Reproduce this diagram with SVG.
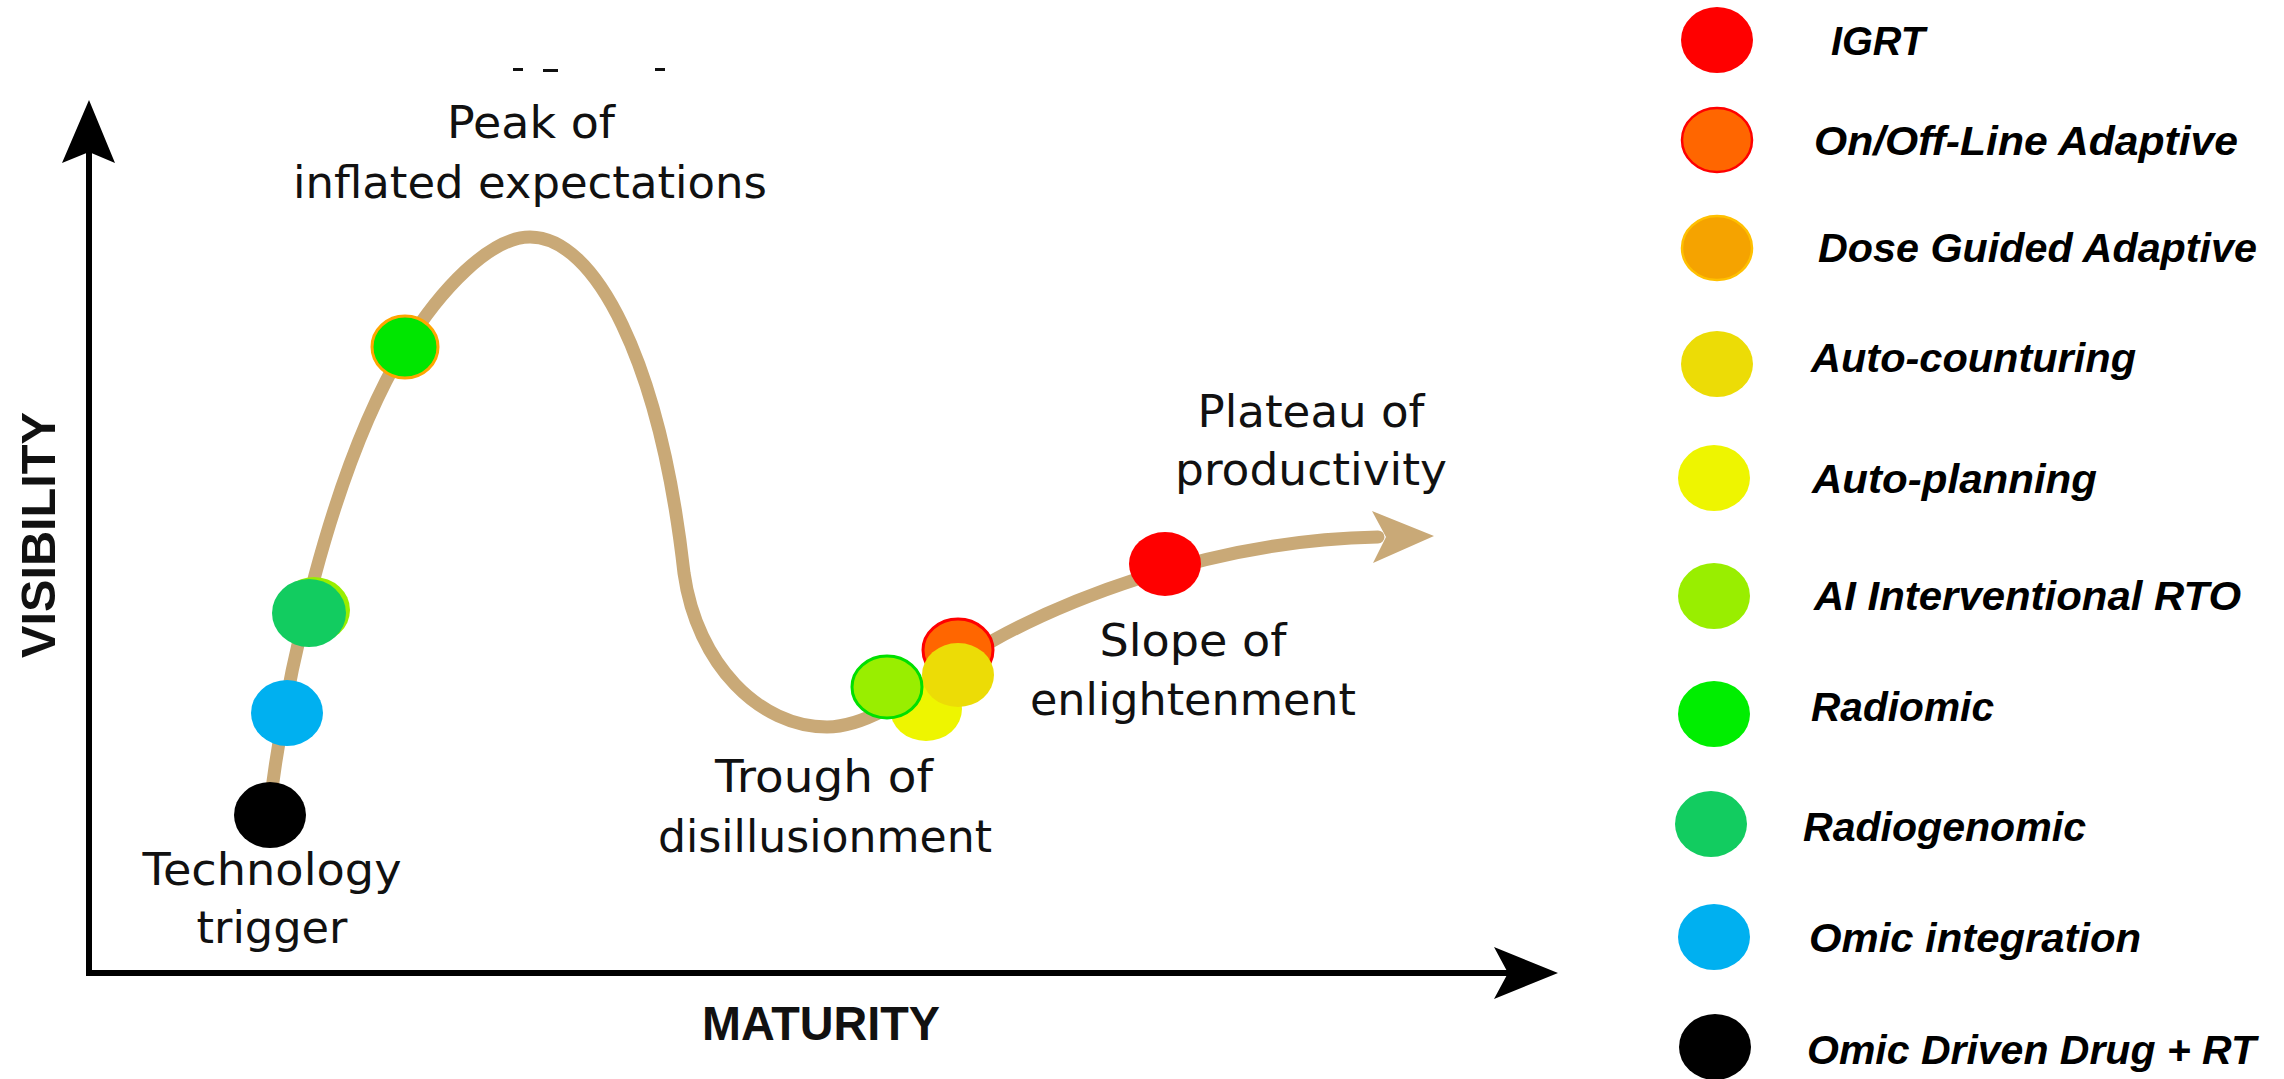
<svg xmlns="http://www.w3.org/2000/svg" width="2284" height="1079" viewBox="0 0 2284 1079">
  <style>
    .phase { font-family: "DejaVu Sans", "Liberation Sans", sans-serif; font-size: 44px; fill: #111; text-anchor: middle; }
    .axislbl { font-family: "Liberation Sans", Arial, sans-serif; font-weight: bold; font-size: 48px; fill: #111; text-anchor: middle; }
    .leg { font-family: "Liberation Sans", Arial, sans-serif; font-weight: bold; font-style: italic; font-size: 41px; fill: #000; }
    .axis { stroke: #000; stroke-width: 6; fill: none; }
    .hype { stroke: #c9a977; stroke-width: 13; fill: none; stroke-linecap: round; }
  </style>
  <rect width="2284" height="1079" fill="#ffffff"/>

  <!-- cut-off remnants at top -->
  <g id="top-remnants" fill="#111">
    <rect x="513" y="68" width="10" height="3"/>
    <rect x="543" y="69" width="15" height="3"/>
    <rect x="655" y="68" width="10" height="3"/>
  </g>

  <!-- axes -->
  <g id="axes">
    <line class="axis" x1="89" y1="975" x2="89" y2="150"/>
    <polygon points="89,100 115,163 89,152 62,163" fill="#000"/>
    <line class="axis" x1="86" y1="973" x2="1512" y2="973"/>
    <polygon points="1558,973 1494,947 1508,973 1494,999" fill="#000"/>
    <text class="axislbl" transform="translate(55,535) rotate(-90)" textLength="246" lengthAdjust="spacingAndGlyphs">VISIBILITY</text>
    <text class="axislbl" x="821" y="1040" textLength="238" lengthAdjust="spacingAndGlyphs">MATURITY</text>
  </g>

  <!-- connectors: hype cycle curve -->
  <g id="connectors">
    <path class="hype" d="M 270 805 C 285 680, 330 470, 405 347 C 440 290, 490 237, 530 237 C 595 237, 660 360, 684 573 C 697 665, 760 727, 827 727 C 880 727, 940 670, 994 640 C 1050 609, 1200 540, 1378 537"/>
    <polygon points="1434,536 1372,511 1386,537 1373,563" fill="#c9a977"/>
  </g>

  <!-- phase labels -->
  <g id="phase-labels">
    <text class="phase" x="531" y="138" textLength="168" lengthAdjust="spacingAndGlyphs">Peak of</text>
    <text class="phase" x="530" y="198" textLength="474" lengthAdjust="spacingAndGlyphs">inflated expectations</text>
    <text class="phase" x="272" y="885" textLength="259" lengthAdjust="spacingAndGlyphs">Technology</text>
    <text class="phase" x="272" y="943" textLength="151" lengthAdjust="spacingAndGlyphs">trigger</text>
    <text class="phase" x="824" y="792" textLength="218" lengthAdjust="spacingAndGlyphs">Trough of</text>
    <text class="phase" x="825" y="852" textLength="334" lengthAdjust="spacingAndGlyphs">disillusionment</text>
    <text class="phase" x="1193" y="656" textLength="187" lengthAdjust="spacingAndGlyphs">Slope of</text>
    <text class="phase" x="1193" y="715" textLength="326" lengthAdjust="spacingAndGlyphs">enlightenment</text>
    <text class="phase" x="1311" y="427" textLength="227" lengthAdjust="spacingAndGlyphs">Plateau of</text>
    <text class="phase" x="1311" y="485" textLength="272" lengthAdjust="spacingAndGlyphs">productivity</text>
  </g>

  <!-- dots on the curve -->
  <g id="dot-omic-driven"><ellipse cx="270" cy="815" rx="36" ry="33" fill="#000000"/></g>
  <g id="dot-omic-integration"><ellipse cx="287" cy="713" rx="36" ry="33" fill="#00b0f0"/></g>
  <g id="dot-ai-left"><ellipse cx="314" cy="610" rx="36" ry="33" fill="#99ee00"/></g>
  <g id="dot-radiogenomic"><ellipse cx="309" cy="613" rx="37" ry="34" fill="#12cc60"/></g>
  <g id="dot-radiomic"><ellipse cx="405" cy="347" rx="33" ry="31" fill="#00e600" stroke="#ffa500" stroke-width="3"/></g>
  <g id="dot-online-adaptive"><ellipse cx="958" cy="650" rx="35" ry="31" fill="#ff6600" stroke="#ff0000" stroke-width="3"/></g>
  <g id="dot-auto-planning"><ellipse cx="926" cy="709" rx="36" ry="32" fill="#eef500"/></g>
  <g id="dot-auto-contouring"><ellipse cx="958" cy="675" rx="36" ry="32" fill="#ecdc06"/></g>
  <g id="dot-ai-interventional"><ellipse cx="887" cy="687" rx="35" ry="31" fill="#99ee00" stroke="#00e000" stroke-width="3"/></g>
  <g id="dot-igrt"><ellipse cx="1165" cy="564" rx="36" ry="32" fill="#ff0000"/></g>

  <!-- legend -->
  <g id="legend-igrt">
    <ellipse cx="1717" cy="40" rx="36" ry="33" fill="#ff0000"/>
    <text class="leg" x="1831" y="55" textLength="94" lengthAdjust="spacingAndGlyphs">IGRT</text>
  </g>
  <g id="legend-online-adaptive">
    <ellipse cx="1717" cy="140" rx="35" ry="32" fill="#ff6600" stroke="#ff0000" stroke-width="2.5"/>
    <text class="leg" x="1814" y="155" textLength="424" lengthAdjust="spacingAndGlyphs">On/Off-Line Adaptive</text>
  </g>
  <g id="legend-dose-guided">
    <ellipse cx="1717" cy="248" rx="35" ry="32" fill="#f5a300" stroke="#ffc000" stroke-width="2.5"/>
    <text class="leg" x="1818" y="262" textLength="439" lengthAdjust="spacingAndGlyphs">Dose Guided Adaptive</text>
  </g>
  <g id="legend-auto-contouring">
    <ellipse cx="1717" cy="364" rx="36" ry="33" fill="#ecdc06"/>
    <text class="leg" x="1811" y="372" textLength="325" lengthAdjust="spacingAndGlyphs">Auto-counturing</text>
  </g>
  <g id="legend-auto-planning">
    <ellipse cx="1714" cy="478" rx="36" ry="33" fill="#eef500"/>
    <text class="leg" x="1812" y="493" textLength="285" lengthAdjust="spacingAndGlyphs">Auto-planning</text>
  </g>
  <g id="legend-ai-interventional">
    <ellipse cx="1714" cy="596" rx="36" ry="33" fill="#99ee00"/>
    <text class="leg" x="1814" y="610" textLength="427" lengthAdjust="spacingAndGlyphs">AI Interventional RTO</text>
  </g>
  <g id="legend-radiomic">
    <ellipse cx="1714" cy="714" rx="36" ry="33" fill="#00ee00"/>
    <text class="leg" x="1811" y="721" textLength="183" lengthAdjust="spacingAndGlyphs">Radiomic</text>
  </g>
  <g id="legend-radiogenomic">
    <ellipse cx="1711" cy="824" rx="36" ry="33" fill="#12cc60"/>
    <text class="leg" x="1803" y="841" textLength="283" lengthAdjust="spacingAndGlyphs">Radiogenomic</text>
  </g>
  <g id="legend-omic-integration">
    <ellipse cx="1714" cy="937" rx="36" ry="33" fill="#00b0f0"/>
    <text class="leg" x="1809" y="952" textLength="332" lengthAdjust="spacingAndGlyphs">Omic integration</text>
  </g>
  <g id="legend-omic-driven">
    <ellipse cx="1715" cy="1047" rx="36" ry="33" fill="#000000"/>
    <text class="leg" x="1807" y="1064" textLength="449" lengthAdjust="spacingAndGlyphs">Omic Driven Drug + RT</text>
  </g>
</svg>
